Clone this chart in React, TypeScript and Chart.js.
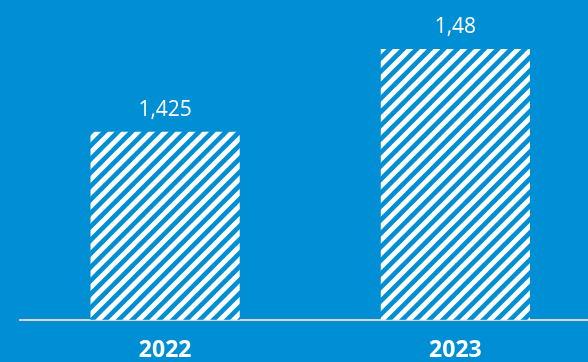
import React, { useEffect, useRef } from "react";
import { Chart, registerables } from "chart.js";

Chart.register(...registerables);

const categories = ["2022", "2023"];
const values = [1.425, 1.48];
const valueLabels = ["1,425", "1,48"];
const yMin = 1.3;
const yMax = 1.5;

const BG = "#008fd5";
const FONT = "'Open Sans', 'Noto Sans', sans-serif";

function makePattern(): CanvasPattern | string {
  const size = 27;
  const c = document.createElement("canvas");
  c.width = size;
  c.height = size;
  const ctx = c.getContext("2d");
  if (!ctx) return "#ffffff";
  ctx.fillStyle = BG;
  ctx.fillRect(0, 0, size, size);
  ctx.strokeStyle = "#ffffff";
  ctx.lineWidth = 4.8;
  for (let k = -1; k <= 5; k++) {
    const cc = k * 13.5;
    ctx.beginPath();
    ctx.moveTo(cc + 20, -20);
    ctx.lineTo(-20, cc + 20);
    ctx.stroke();
  }
  const p = ctx.createPattern(c, "repeat");
  return p || "#ffffff";
}

const valueLabelPlugin = {
  id: "valueLabels",
  afterDatasetsDraw(chart: any) {
    const ctx = chart.ctx;
    const meta = chart.getDatasetMeta(0);
    ctx.save();
    ctx.fillStyle = "#ffffff";
    ctx.font = `400 21px ${FONT}`;
    ctx.textAlign = "center";
    ctx.textBaseline = "alphabetic";
    meta.data.forEach((bar: any, i: number) => {
      ctx.fillText(valueLabels[i], bar.x, bar.y - 16);
    });
    ctx.restore();
  },
};

export default function App() {
  const ref = useRef<HTMLCanvasElement | null>(null);

  useEffect(() => {
    if (!ref.current) return;
    const chart = new Chart(ref.current, {
      type: "bar",
      data: {
        labels: categories,
        datasets: [
          {
            data: values,
            backgroundColor: makePattern() as any,
            borderWidth: 0,
            barPercentage: 0.514,
            categoryPercentage: 1,
          },
        ],
      },
      options: {
        animation: false,
        responsive: false,
        layout: { padding: { left: 20, right: 9.5, top: 19, bottom: 4.6 } },
        plugins: {
          legend: { display: false },
          tooltip: { enabled: false },
        },
        scales: {
          y: { display: false, min: yMin, max: yMax },
          x: {
            grid: { display: false, drawTicks: false },
            border: { display: true, color: "#d6d6d6", width: 2 },
            ticks: {
              color: "#ffffff",
              padding: 17,
              font: { family: FONT, size: 23, weight: "bold" },
            },
          },
        },
      },
      plugins: [valueLabelPlugin],
    });
    return () => chart.destroy();
  }, []);

  return (
    <div
      style={{
        position: "fixed",
        left: 0,
        top: 0,
        width: "100vw",
        height: "100vh",
        overflow: "hidden",
        background: BG,
      }}
    >
      <canvas ref={ref} width={610} height={386} style={{ display: "block" }} />
    </div>
  );
}
